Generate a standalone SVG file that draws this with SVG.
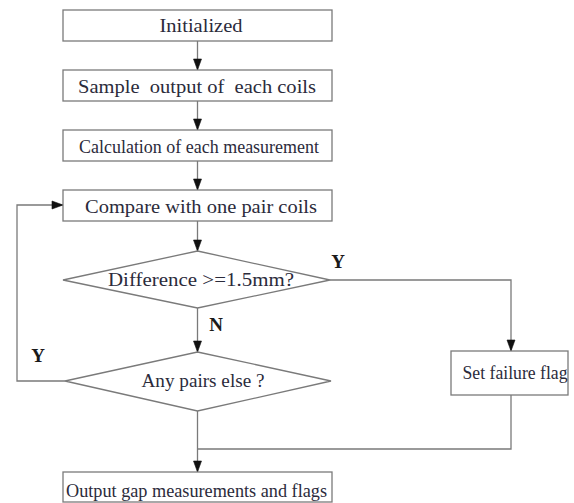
<svg xmlns="http://www.w3.org/2000/svg" width="574" height="503" viewBox="0 0 574 503">
<style>
.box{fill:#fff;stroke:#7a7a7a;stroke-width:1.3}
.ln{fill:none;stroke:#7a7a7a;stroke-width:1.3}
.t{font-family:"Liberation Serif","Times New Roman",serif;font-size:19px;fill:#2b2b3b;text-anchor:middle}
.lb{font-family:"Liberation Serif","Times New Roman",serif;font-size:19px;font-weight:bold;fill:#1a1a1a;text-anchor:middle}
</style>
<defs>
<marker id="ah" markerUnits="userSpaceOnUse" markerWidth="11" markerHeight="9" refX="11" refY="4.5" orient="auto" viewBox="0 0 11 9" overflow="visible">
<path d="M0,0.5 L11,4.5 L0,8.5 z" fill="#111" stroke="#111" stroke-width="0.6"/>
</marker>
</defs>
<rect width="574" height="503" fill="#fff"/>
<g id="connectors">
<line class="ln" x1="197.5" y1="41" x2="197.5" y2="70" marker-end="url(#ah)"/>
<line class="ln" x1="197.5" y1="101" x2="197.5" y2="130" marker-end="url(#ah)"/>
<line class="ln" x1="197.5" y1="161" x2="197.5" y2="190" marker-end="url(#ah)"/>
<line class="ln" x1="197.5" y1="221" x2="197.5" y2="251" marker-end="url(#ah)"/>
<line class="ln" x1="197.5" y1="308" x2="197.5" y2="352" marker-end="url(#ah)"/>
<line class="ln" x1="197.5" y1="411" x2="197.5" y2="472" marker-end="url(#ah)"/>
<polyline class="ln" points="65,381 17,381 17,205 63,205" marker-end="url(#ah)"/>
<polyline class="ln" points="330,280 511,280 511,351" marker-end="url(#ah)"/>
<polyline class="ln" points="511,395 511,449 197.5,449"/>
<text class="lb" x="338" y="268">Y</text>
<text class="lb" x="38" y="362">Y</text>
<text class="lb" x="216" y="331">N</text>
</g>
<g id="initialized">
<rect class="box" x="63" y="10" width="269" height="31"/>
<text class="t" x="201" y="32" textLength="83" lengthAdjust="spacingAndGlyphs">Initialized</text>
</g>
<g id="sample">
<rect class="box" x="63" y="70" width="269" height="31"/>
<text class="t" x="197" y="92.5" textLength="238" lengthAdjust="spacingAndGlyphs" xml:space="preserve">Sample  output of  each coils</text>
</g>
<g id="calculation">
<rect class="box" x="63" y="130" width="269" height="31"/>
<text class="t" x="199" y="153" textLength="240" lengthAdjust="spacingAndGlyphs">Calculation of each measurement</text>
</g>
<g id="compare">
<rect class="box" x="63" y="190" width="269" height="31"/>
<text class="t" x="201" y="212.5" textLength="232" lengthAdjust="spacingAndGlyphs">Compare with one pair coils</text>
</g>
<g id="difference">
<polygon class="box" points="197.5,251 330,280 197.5,308 63,280"/>
<text class="t" x="201" y="286" textLength="186" lengthAdjust="spacingAndGlyphs">Difference &gt;=1.5mm?</text>
</g>
<g id="anypairs">
<polygon class="box" points="197.5,352 331,381 197.5,411 65,381"/>
<text class="t" x="203" y="387" textLength="123" lengthAdjust="spacingAndGlyphs">Any pairs else ?</text>
</g>
<g id="setfailure">
<rect class="box" x="451" y="351" width="117" height="44"/>
<text class="t" x="515" y="379" textLength="105" lengthAdjust="spacingAndGlyphs">Set failure flag</text>
</g>
<g id="output">
<rect class="box" x="63" y="472" width="269" height="30"/>
<text class="t" x="196.5" y="497" textLength="261" lengthAdjust="spacingAndGlyphs">Output gap measurements and flags</text>
</g>
</svg>
